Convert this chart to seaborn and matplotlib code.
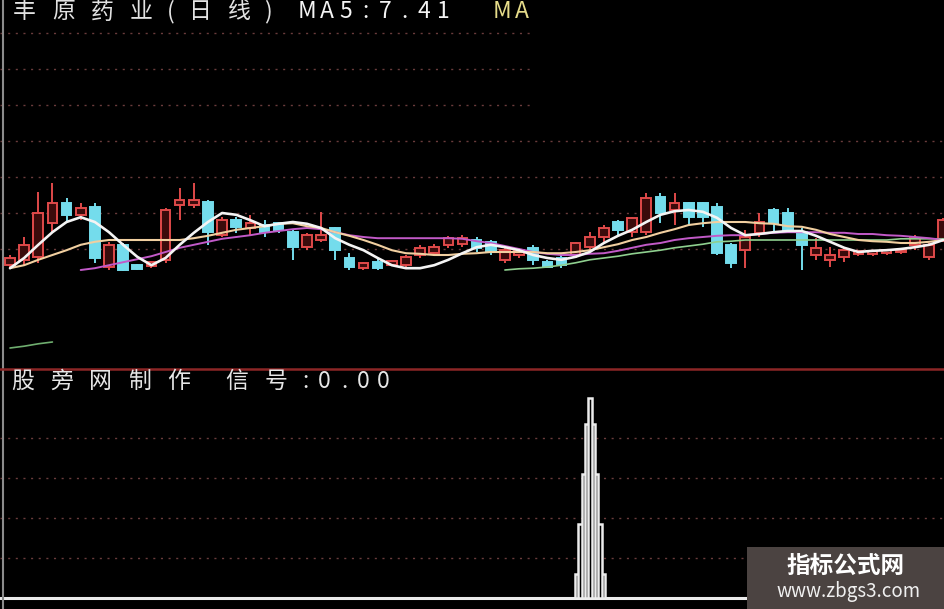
import numpy as np
import pandas as pd
import seaborn as sns
import matplotlib.pyplot as plt
from matplotlib.patches import Rectangle

# daily candles (price)
opens = [6.99, 7.08, 7.13, 7.69, 8.03, 7.83, 7.96, 6.96, 7.33, 6.99,
         6.98, 7.08, 7.99, 7.99, 8.04, 7.49, 7.74, 7.61, 7.66, 7.69,
         7.54, 7.29, 7.41, 7.61, 7.11, 6.94, 7.04, 6.99, 6.99, 7.16,
         7.19, 7.33, 7.34, 7.41, 7.38, 7.08, 7.16, 7.28, 7.04, 7.11,
         7.16, 7.29, 7.46, 7.71, 7.54, 7.54, 8.13, 7.91, 8.03, 8.03,
         7.96, 7.33, 7.24, 7.53, 7.91, 7.86, 7.54, 7.16, 7.08, 7.13,
         7.18, 7.18, 7.19, 7.21, 7.33, 7.13, 7.41]
highs = [7.16, 7.46, 8.21, 8.36, 8.11, 8.03, 8.03, 7.38, 7.36, 7.01,
         7.06, 7.94, 8.28, 8.36, 8.08, 7.79, 7.79, 7.83, 7.74, 7.71,
         7.58, 7.53, 7.88, 7.63, 7.19, 7.04, 7.09, 7.08, 7.16, 7.33,
         7.34, 7.48, 7.49, 7.46, 7.41, 7.28, 7.28, 7.33, 7.08, 7.16,
         7.38, 7.54, 7.66, 7.74, 7.79, 8.19, 8.19, 8.19, 8.04, 8.04,
         8.03, 7.36, 7.58, 7.86, 7.94, 7.94, 7.61, 7.44, 7.29, 7.29,
         7.24, 7.24, 7.26, 7.26, 7.49, 7.36, 7.78]
lows = [6.94, 6.99, 7.03, 7.53, 7.71, 7.74, 7.03, 6.91, 6.90, 6.91,
        6.94, 7.03, 7.74, 7.94, 7.33, 7.46, 7.53, 7.49, 7.46, 7.53,
        7.08, 7.24, 7.38, 7.08, 6.91, 6.91, 6.91, 6.98, 6.96, 7.11,
        7.14, 7.28, 7.29, 7.21, 7.16, 7.03, 7.11, 6.99, 6.94, 6.94,
        7.11, 7.24, 7.38, 7.49, 7.46, 7.49, 7.69, 7.66, 7.66, 7.63,
        7.16, 6.94, 6.94, 7.46, 7.54, 7.53, 6.91, 7.08, 6.96, 7.04,
        7.14, 7.14, 7.16, 7.18, 7.24, 7.08, 7.38]
closes = [7.11, 7.33, 7.86, 8.03, 7.83, 7.94, 7.11, 7.33, 6.91, 6.93,
          7.04, 7.91, 8.08, 8.08, 7.54, 7.74, 7.63, 7.69, 7.54, 7.58,
          7.29, 7.49, 7.49, 7.24, 6.96, 7.03, 6.94, 7.06, 7.13, 7.28,
          7.29, 7.44, 7.44, 7.28, 7.21, 7.24, 7.24, 7.08, 6.96, 6.99,
          7.36, 7.46, 7.61, 7.58, 7.78, 8.11, 7.86, 8.03, 7.79, 7.79,
          7.19, 7.03, 7.46, 7.71, 7.69, 7.54, 7.33, 7.28, 7.16, 7.24,
          7.23, 7.23, 7.24, 7.24, 7.44, 7.33, 7.74]

# moving averages
ma5 = [6.94, 7.11, 7.33, 7.54, 7.71, 7.79, 7.71, 7.54, 7.33, 7.13,
       6.99, 7.11, 7.33, 7.53, 7.71, 7.86, 7.83, 7.74, 7.64, 7.68,
       7.71, 7.68, 7.61, 7.44, 7.33, 7.24, 7.11, 6.99, 6.94, 6.94,
       6.99, 7.08, 7.19, 7.29, 7.33, 7.29, 7.24, 7.16, 7.11, 7.08,
       7.13, 7.21, 7.36, 7.48, 7.58, 7.71, 7.83, 7.89, 7.91, 7.88,
       7.78, 7.61, 7.49, 7.51, 7.54, 7.56, 7.56, 7.48, 7.38, 7.28,
       7.21, 7.23, 7.24, 7.26, 7.29, 7.33, 7.41]
ma10 = [6.94, 6.99, 7.08, 7.16, 7.24, 7.33, 7.38, 7.41, 7.41, 7.41,
        7.41, 7.41, 7.41, 7.44, 7.48, 7.53, 7.58, 7.61, 7.64, 7.68,
        7.69, 7.64, 7.61, 7.54, 7.48, 7.41, 7.33, 7.24, 7.19, 7.18,
        7.16, 7.16, 7.18, 7.19, 7.21, 7.21, 7.21, 7.21, 7.19, 7.19,
        7.21, 7.24, 7.29, 7.34, 7.41, 7.46, 7.53, 7.59, 7.66, 7.69,
        7.71, 7.71, 7.71, 7.69, 7.68, 7.64, 7.63, 7.58, 7.51, 7.46,
        7.41, 7.39, 7.38, 7.36, 7.36, 7.38, 7.41]
ma20 = [np.nan] * 5 + [
        6.91, 6.94, 6.99, 7.04, 7.09, 7.14, 7.21, 7.28, 7.33, 7.38,
        7.43, 7.46, 7.49, 7.53, 7.56, 7.59, 7.61, 7.59, 7.54, 7.49,
        7.46, 7.44, 7.44, 7.44, 7.44, 7.44, 7.44, 7.43, 7.39, 7.36,
        7.31, 7.26, 7.21, 7.18, 7.16, 7.16, 7.18, 7.19, 7.23, 7.28,
        7.33, 7.36, 7.41, 7.44, 7.46, 7.48, 7.49, 7.49, 7.51, 7.53,
        7.54, 7.54, 7.54, 7.53, 7.53, 7.51, 7.51, 7.49, 7.48, 7.46,
        7.44, 7.41]
ma60 = [np.nan] * 35 + [
        6.91, 6.93, 6.94, 6.96, 6.99, 7.03, 7.08, 7.11, 7.14, 7.18,
        7.21, 7.24, 7.28, 7.31, 7.34, 7.38, 7.39, 7.41, 7.41, 7.41,
        7.41, 7.41, 7.41, 7.41, 7.41, 7.41, 7.41, 7.41, 7.43, 7.43,
        7.43, 7.43]
low_green = [5.61, 5.64, 5.68, 5.71]

# signal panel: nested sticks on one bar
signal_bar = 41
signal_levels = [0.12, 0.37, 0.62, 0.87, 1.0]
signal_widths = [2.12, 1.70, 1.13, 0.71, 0.28]

price_grid = [7.26, 7.86, 8.46, 9.06, 9.66, 10.26, 10.86]
signal_grid = [0.2, 0.4, 0.6, 0.8]

W, H = 945, 609
sns.set_theme(style='dark', rc={'axes.facecolor': 'black', 'figure.facecolor': 'black',
                                'axes.grid': False})
plt.rcParams['font.family'] = ['Noto Sans CJK SC', 'DejaVu Sans']

fig = plt.figure(figsize=(W / 100, H / 100), dpi=100)
split = 368
ax = fig.add_axes([0, (H - split) / H, 1, split / H])
ax2 = fig.add_axes([0, 0, 1, (H - split) / H])
for a in (ax, ax2):
    a.set_axis_off()
    a.set_facecolor('black')

n = len(opens)
idx = np.arange(n)
df = pd.DataFrame({'i': idx, 'open': opens, 'high': highs, 'low': lows, 'close': closes,
                   'ma5': ma5, 'ma10': ma10, 'ma20': ma20, 'ma60': ma60})
x0 = -10 / 14.14
x1 = (W - 10) / 14.14
ax.set_xlim(x0, x1)
ax.set_ylim(11.41 - split / 60, 11.41)
ax2.set_xlim(x0, x1)
ax2.set_ylim(-(H - 598) / 200, (598 - split) / 200)

# dotted grid (top three only on the left part)
gcol = '#6a3c3c'
for g in price_grid:
    xmax = (37.0 - x0) / (x1 - x0) if g > 9.3 else 1
    ax.axhline(g, xmin=0, xmax=xmax, color=gcol, lw=1, ls=(0, (1.5, 4)), zorder=1)
for g in signal_grid:
    ax2.axhline(g, color=gcol, lw=1, ls=(0, (1.5, 4)), zorder=1)

# candles
up = df['close'] >= df['open']
red, cyan = '#e04a4a', '#74dcec'
for mask, col, face in ((up, red, '#3a0b0b'), (~up, cyan, cyan)):
    d = df[mask]
    ax.vlines(d['i'], d['low'], d['high'], color=col, lw=1.4, zorder=2)
    bottom = np.minimum(d['open'], d['close'])
    height = np.maximum(np.abs(d['close'] - d['open']), 0.03)
    ax.bar(d['i'], height, bottom=bottom, width=0.68, facecolor=face,
           edgecolor=col, lw=1.4, zorder=3)

# moving averages
sns.lineplot(data=df, x='i', y='ma60', ax=ax, color='#8fd08f', lw=1.2, zorder=4)
sns.lineplot(data=df, x='i', y='ma20', ax=ax, color='#c25ac8', lw=1.4, zorder=4)
sns.lineplot(data=df, x='i', y='ma10', ax=ax, color='#f1cfa0', lw=1.5, zorder=5)
sns.lineplot(data=df, x='i', y='ma5', ax=ax, color='#f4f4f4', lw=1.9, zorder=6)
ax.plot(idx[:len(low_green)], low_green, color='#6fae6f', lw=1.2)
ax.set_xlim(x0, x1)

# left border and separator
for a in (ax, ax2):
    a.axvline(-0.5, color='#8c8c8c', lw=1.5, zorder=7)
ax2.axhline((598 - split) / 200 - 0.006, color='#8c2626', lw=1.8, zorder=7)

# signal
ax2.axhline(0, color='#ececec', lw=2.2, zorder=3)
for k, (lv, w) in enumerate(zip(signal_levels, signal_widths)):
    ax2.bar(signal_bar, lv, width=w, facecolor='black', edgecolor='#ececec',
            lw=1.8, zorder=4 + k)


def cell_text(x, y, s, color, size=16.5, weight='normal'):
    # fixed-width layout: full cell for CJK, half cell for ASCII
    for ch in s:
        w = 39 if ord(ch) > 255 else 19.5
        if ch != ' ':
            fig.text((x + w / 2) / W, 1 - y / H, ch, ha='center', va='center',
                     color=color, fontsize=size, fontweight=weight)
        x += w
    return x


x = cell_text(5, 12, '丰原药业(日线)', '#e2e2e2')
x = cell_text(x + 19.5, 12, 'MA5:7.41', '#f4f4f4')
cell_text(x + 39, 12, 'MA', '#e6dc8a')
cell_text(3, 381, '股旁网制作 信号:0.00', '#e6e6e6')

# watermark box
fig.patches.append(Rectangle((747 / W, 0), 198 / W, 62 / H, transform=fig.transFigure,
                             facecolor='#4b4341', edgecolor='none', zorder=10))
fig.text(846 / W, 1 - 566 / H, '指标公式网', ha='center', va='center', color='white',
         fontsize=17, fontweight='bold', zorder=11)
fig.text(849 / W, 1 - 592 / H, 'www.zbgs3.com', ha='center', va='center', color='#f0f0f0',
         fontsize=13.5, zorder=11)

fig.savefig('out.png', dpi=100, facecolor='black')
